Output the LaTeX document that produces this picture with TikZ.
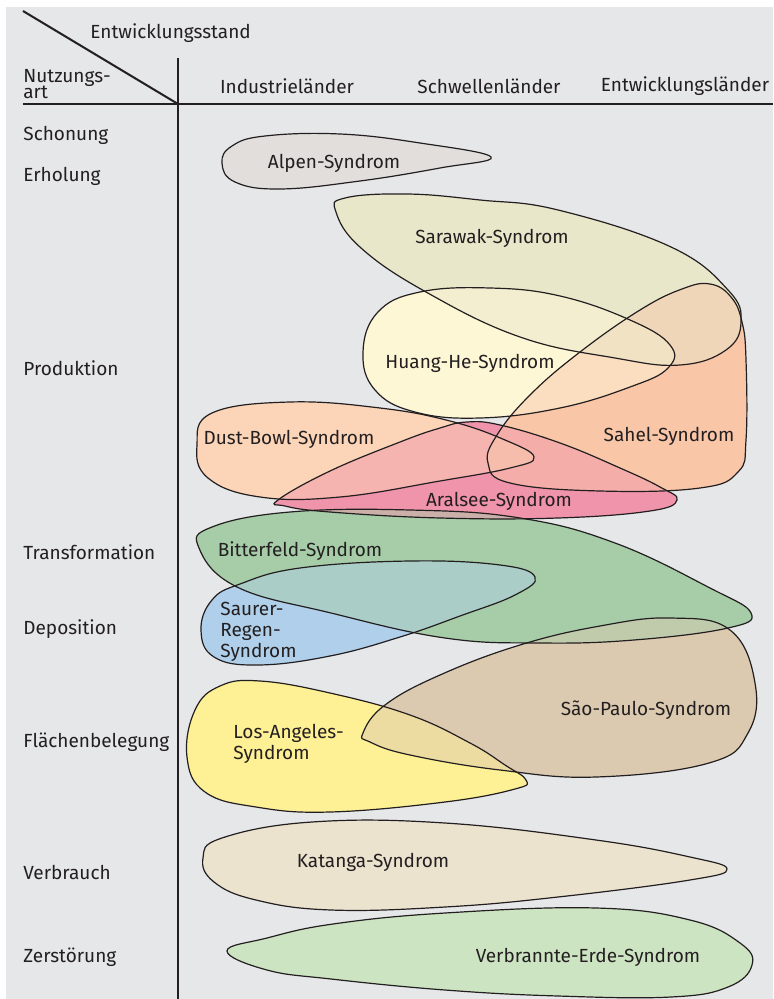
\documentclass[tikz,border=0pt]{standalone}
\usepackage{fontspec}
\setmainfont{Fira Sans}
\usepackage{xcolor}
\usepackage{tikz}
\usetikzlibrary{positioning}

% colours of the syndromes
\definecolor{bgGrey}{HTML}{E6E7E9}
\definecolor{inkGrey}{HTML}{231F20}
\definecolor{alpenFill}{HTML}{E2DEDB}
\definecolor{sarawakFill}{HTML}{E9E7C9}
\definecolor{huangFill}{HTML}{FEF7D6}
\definecolor{sahelFill}{HTML}{F9C6A8}
\definecolor{dustFill}{HTML}{FCD5B8}
\definecolor{aralFill}{HTML}{F094AB}
\definecolor{bitterFill}{HTML}{A6CDA8}
\definecolor{saurerFill}{HTML}{B0CFEA}
\definecolor{paoloFill}{HTML}{DCCAB0}
\definecolor{angelesFill}{HTML}{FDF095}
\definecolor{katangaFill}{HTML}{EBE3CE}
\definecolor{erdeFill}{HTML}{CDE4C2}

% outlines of the syndromes
\def\pathAlpen{plot[smooth cycle, tension=0.7] coordinates {(222,163) (232,146) (265,136) (340,134) (420,143) (491,157) (440,168) (360,181) (280,189) (235,182)}}
\def\pathSarawak{plot[smooth cycle, tension=0.7] coordinates {(336,212) (345,198) (407,194) (480,200) (558,210) (671,247) (728,290) (741,322) (726,350) (680,365) (615,358) (520,337) (426,292) (361,248)}}
\def\pathHuang{plot[smooth cycle, tension=0.7] coordinates {(363,352) (378,312) (420,292) (490,288) (560,296) (630,320) (670,345) (668,368) (630,387) (560,408) (480,418) (415,412) (375,390)}}
\def\pathSahel{plot[smooth cycle, tension=0.7] coordinates {(710,284) (731,297) (742,322) (746,360) (746,440) (738,472) (700,488) (600,491) (510,483) (488,463) (497,435) (530,395) (580,352) (640,310) (682,289)}}
\def\pathDust{plot[smooth cycle, tension=0.7] coordinates {(197,445) (212,413) (290,402) (380,408) (450,421) (505,440) (534,457) (510,468) (440,481) (340,497) (260,497) (208,478)}}
\def\pathAral{plot[smooth cycle, tension=0.7] coordinates {(278,500) (330,471) (400,442) (440,428) (467,422) (500,425) (560,443) (620,468) (660,487) (677,500) (650,511) (558,518) (440,518) (330,512) (285,506)}}
\def\pathBitter{plot[smooth cycle, tension=0.7] coordinates {(199,548) (212,527) (290,512) (410,510) (520,518) (615,543) (710,588) (751,613) (728,628) (634,640) (540,643) (445,638) (331,613) (237,587)}}
\def\pathSaurer{plot[smooth cycle, tension=0.7] coordinates {(201,630) (212,600) (240,584) (300,568) (410,561) (500,565) (535,577) (515,595) (460,616) (400,637) (330,656) (258,665) (214,657)}}
\def\pathPaolo{plot[smooth cycle, tension=0.7] coordinates {(363,733) (385,705) (440,675) (520,645) (600,626) (671,618) (730,630) (755,683) (748,733) (709,763) (596,777) (500,770) (410,755) (370,742)}}
\def\pathAngeles{plot[smooth cycle, tension=0.7] coordinates {(187,757) (195,710) (220,686) (260,681) (330,693) (410,715) (470,743) (505,765) (526,780) (515,789) (445,802) (330,812) (256,807) (205,792)}}
\def\pathKatanga{plot[smooth cycle, tension=0.7] coordinates {(203,858) (222,838) (312,822) (445,823) (596,840) (690,857) (727,869) (690,880) (558,897) (445,907) (331,910) (256,900) (214,882)}}
\def\pathErde{plot[smooth cycle, tension=0.7] coordinates {(227,951) (267,938) (333,924) (445,913) (596,908) (690,920) (740,943) (752,965) (728,987) (671,997) (558,996) (445,990) (331,979) (267,970)}}

\begin{document}
\begin{tikzpicture}[x=0.5pt, y=-0.5pt]
        % Define styles
        \tikzset{
            axis/.style={line width=1pt, draw=inkGrey},
            outline/.style={draw=inkGrey, line width=0.6pt},
            mixfill/.style={fill opacity=0.5},
            txt/.style={font=\fontsize{9.5}{10.5}\selectfont, text=inkGrey, inner sep=0pt},
            rowtxt/.style={txt, anchor=west},
            multitxt/.style={txt, align=left, anchor=west}
        }

        % Background
        \useasboundingbox (0,0) rectangle (773,999);
        \fill[bgGrey] (6,7) rectangle (773,999);

        % Fill the syndromes
        \fill[alpenFill] \pathAlpen;
        \fill[sarawakFill] \pathSarawak;
        \fill[huangFill] \pathHuang;
        \fill[sahelFill] \pathSahel;
        \fill[dustFill] \pathDust;
        \fill[aralFill] \pathAral;
        \fill[bitterFill] \pathBitter;
        \fill[saurerFill] \pathSaurer;
        \fill[paoloFill] \pathPaolo;
        \fill[angelesFill] \pathAngeles;
        \fill[katangaFill] \pathKatanga;
        \fill[erdeFill] \pathErde;

        % Mix the overlaps
        \fill[angelesFill, mixfill] \pathAngeles;
        \fill[paoloFill, mixfill] \pathPaolo;
        \fill[saurerFill, mixfill] \pathSaurer;
        \fill[bitterFill, mixfill] \pathBitter;
        \fill[aralFill, mixfill] \pathAral;
        \fill[dustFill, mixfill] \pathDust;
        \fill[sahelFill, mixfill] \pathSahel;
        \fill[huangFill, mixfill] \pathHuang;
        \fill[sarawakFill, mixfill] \pathSarawak;

        % Outlines
        \draw[outline] \pathAlpen;
        \draw[outline] \pathSarawak;
        \draw[outline] \pathHuang;
        \draw[outline] \pathSahel;
        \draw[outline] \pathDust;
        \draw[outline] \pathAral;
        \draw[outline] \pathBitter;
        \draw[outline] \pathSaurer;
        \draw[outline] \pathPaolo;
        \draw[outline] \pathAngeles;
        \draw[outline] \pathKatanga;
        \draw[outline] \pathErde;

        % Axes
        \coordinate (corner) at (178,104);
        \coordinate (diagstart) at (23,11);
        \coordinate (vtop) at (178,58);
        \coordinate (vbottom) at (178,999);
        \coordinate (hleft) at (23,104);
        \coordinate (hright) at (773,104);
        \draw[axis] (diagstart) -- (corner);
        \draw[axis] (vtop) -- (vbottom);
        \draw[axis] (hleft) -- (hright);

        % Header
        \node[txt, anchor=west] (stand) at (90,33) {Entwicklungsstand};
        \node[txt, align=left, anchor=west, font=\fontsize{9.5}{8.3}\selectfont] (nutzung) at (23,84) {Nutzungs-\\art};
        \node[txt] (industrie) at (287,86) {Industrieländer};
        \node[txt] (schwelle) at (489,86) {Schwellenländer};
        \node[txt] (entwicklung) at (685,86) {Entwicklungsländer};

        % Rows
        \node[rowtxt] (schonung) at (23,135) {Schonung};
        \node[rowtxt] (erholung) at (23,176) {Erholung};
        \node[rowtxt] (produktion) at (23,368) {Produktion};
        \node[rowtxt] (transformation) at (23,552) {Transformation};
        \node[rowtxt] (deposition) at (23,629) {Deposition};
        \node[rowtxt] (flaeche) at (23,742) {Flächenbelegung};
        \node[rowtxt] (verbrauch) at (23,872) {Verbrauch};
        \node[rowtxt] (zerstoerung) at (23,957) {Zerstörung};

        % Syndrome names
        \node[txt] (alpen) at (334,163) {Alpen-Syndrom};
        \node[txt] (sarawak) at (492,238) {Sarawak-Syndrom};
        \node[txt] (huang) at (470,363) {Huang-He-Syndrom};
        \node[txt] (sahel) at (669,436) {Sahel-Syndrom};
        \node[txt] (dust) at (289,439) {Dust-Bowl-Syndrom};
        \node[txt] (aral) at (499,501) {Aralsee-Syndrom};
        \node[txt] (bitter) at (300,551) {Bitterfeld-Syndrom};
        \node[multitxt] (saurer) at (220,632) {Saurer-\\Regen-\\Syndrom};
        \node[txt] (paolo) at (646,710) {São-Paulo-Syndrom};
        \node[multitxt] (angeles) at (233,744) {Los-Angeles-\\Syndrom};
        \node[txt] (katanga) at (373,862) {Katanga-Syndrom};
        \node[txt] (erde) at (588,957) {Verbrannte-Erde-Syndrom};
    \end{tikzpicture}
\end{document}
